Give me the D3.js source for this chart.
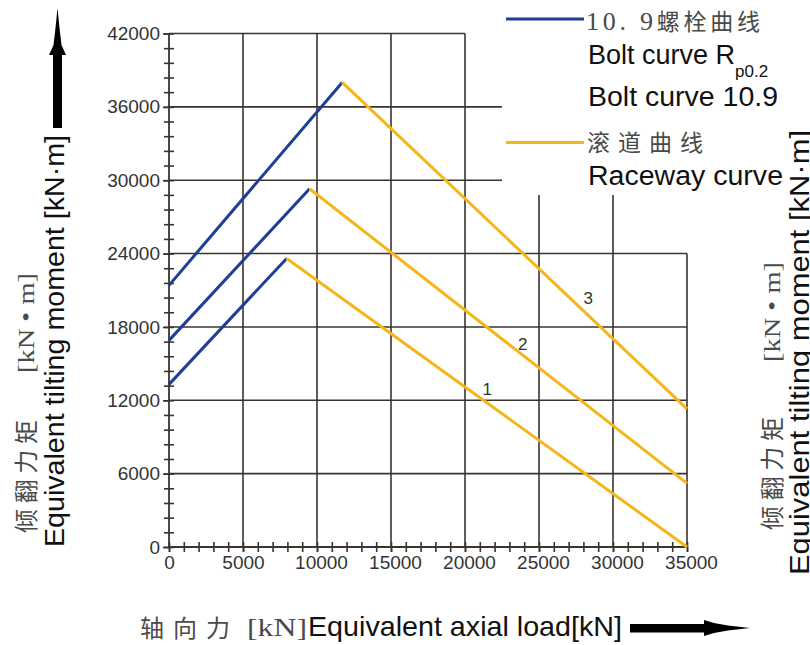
<!DOCTYPE html>
<html>
<head>
<meta charset="utf-8">
<script src="https://cdn.jsdelivr.net/npm/d3@7"></script>
<style>
  html, body { margin: 0; padding: 0; background: #ffffff; }
  svg { display: block; }
</style>
</head>
<body>
<svg id="chart" width="810" height="645"></svg>
<script>
// ---------------- data ----------------
const curveNames = ["1", "2", "3"];
const boltStartMoment = [13300, 16900, 21400];   // kN·m at zero axial load
const peakLoad = [7950, 9500, 11700];            // kN
const peakMoment = [23600, 29300, 38000];        // kN·m
const racewayEndLoad = [35000, 35000, 35000];    // kN
const racewayEndMoment = [0, 5200, 11300];       // kN·m
const curveLabelLoad = [21500, 23900, 28330];
const curveLabelMoment = [12850, 16530, 20350];

const xTickValues = [0, 5000, 10000, 15000, 20000, 25000, 30000, 35000];
const xTickLabels = ["0", "5000", "10000", "15000", "20000", "25000", "30000", "35000"];
const yTickValues = [0, 6000, 12000, 18000, 24000, 30000, 36000, 42000];
const yTickLabels = ["0", "6000", "12000", "18000", "24000", "30000", "36000", "42000"];

const hGridValues = [0, 6000, 12000, 18000, 24000, 30000, 36000, 42000];
const hGridEnds   = [35000, 35000, 35000, 35000, 35000, 22500, 22500, 20000];
const vGridValues = [5000, 10000, 15000, 20000, 25000, 30000, 35000];
const vGridTops   = [42000, 42000, 42000, 42000, 28800, 28800, 24000];

const legendLabels = ["10. 9螺栓曲线", "滚道曲线"];
const boltEn1 = "Bolt curve R", boltSub = "p0.2", boltEn2 = "Bolt curve 10.9";
const racewayEn = "Raceway curve";
const yTitleCn = "倾翻力矩", yTitleUnit = "[kN • m]", yTitleEn = "Equivalent tilting moment [kN·m]";
const xTitleCn = "轴向力", xTitleUnit = "[kN]", xTitleEn = "Equivalent axial load[kN]";

// ---------------- setup ----------------
const BLUE = "#1e3f98", YELLOW = "#f4b619", GRID = "#3a342e";
const SANS = "'Liberation Sans', Arial, sans-serif";
const CJK = "'Noto Sans CJK SC', sans-serif";
const SERIF = "'Liberation Serif', 'Times New Roman', serif";
const CN_FILL = "#4a4a4a";

const svg = d3.select("#chart");
const x = d3.scaleLinear().domain([0, 35000]).range([169, 687]);
const y = d3.scaleLinear().domain([0, 42000]).range([547, 33.5]);

// ---------------- grid ----------------
const g = svg.append("g");
g.selectAll("line.h").data(hGridValues).join("line")
  .attr("x1", x(0)).attr("x2", (d, i) => x(hGridEnds[i]))
  .attr("y1", d => y(d)).attr("y2", d => y(d))
  .attr("stroke", GRID).attr("stroke-width", 1.6);
g.selectAll("line.v").data(vGridValues).join("line")
  .attr("x1", d => x(d)).attr("x2", d => x(d))
  .attr("y1", y(0)).attr("y2", (d, i) => y(vGridTops[i]))
  .attr("stroke", GRID).attr("stroke-width", 1.6);

// ---------------- axes ----------------
const yMinor = d3.range(0, 42001, 1200);
const xMinor = d3.range(0, 35001, 1000);

function styleAxis(sel) {
  sel.select(".domain").remove();
  sel.selectAll(".tick line").attr("stroke", GRID).attr("stroke-width", 1.6);
  sel.selectAll(".tick text").attr("fill", "#333").attr("font-family", SANS).attr("font-size", 19);
}
// y axis: ticks crossing the axis
svg.append("g").attr("transform", `translate(${x(0)},0)`)
  .call(d3.axisLeft(y).tickValues(yMinor).tickSize(5).tickSizeOuter(0).tickFormat(""))
  .call(styleAxis);
svg.append("g").attr("transform", `translate(${x(0)},0)`)
  .call(d3.axisRight(y).tickValues(yMinor).tickSize(5).tickSizeOuter(0).tickFormat(""))
  .call(styleAxis);
svg.append("g").attr("transform", `translate(${x(0)},0)`)
  .call(d3.axisLeft(y).tickValues(yTickValues).tickSize(6).tickPadding(3).tickSizeOuter(0)
        .tickFormat((d, i) => yTickLabels[i]))
  .call(styleAxis);
// x axis
svg.append("g").attr("transform", `translate(0,${y(0)})`)
  .call(d3.axisBottom(x).tickValues(xMinor).tickSize(5).tickSizeOuter(0).tickFormat(""))
  .call(styleAxis);
svg.append("g").attr("transform", `translate(0,${y(0)})`)
  .call(d3.axisTop(x).tickValues(xMinor).tickSize(5).tickSizeOuter(0).tickFormat(""))
  .call(styleAxis);
const xAx = svg.append("g").attr("transform", `translate(0,${y(0)})`)
  .call(d3.axisBottom(x).tickValues(xTickValues).tickSize(5).tickPadding(4).tickSizeOuter(0)
        .tickFormat((d, i) => xTickLabels[i]))
  .call(styleAxis);
xAx.selectAll(".tick text").attr("dx", d => (String(d).length >= 5 ? 4 : 0));
// axis lines
svg.append("line").attr("x1", x(0)).attr("x2", x(0)).attr("y1", y(0)).attr("y2", y(42000))
  .attr("stroke", GRID).attr("stroke-width", 1.8);
svg.append("line").attr("x1", x(0)).attr("x2", x(35000)).attr("y1", y(0)).attr("y2", y(0))
  .attr("stroke", GRID).attr("stroke-width", 1.8);

// ---------------- curves ----------------
const line = d3.line().x(d => x(d[0])).y(d => y(d[1]));
curveNames.forEach((name, i) => {
  svg.append("path")
    .attr("d", line([[0, boltStartMoment[i]], [peakLoad[i], peakMoment[i]]]))
    .attr("fill", "none").attr("stroke", BLUE).attr("stroke-width", 3);
  svg.append("path")
    .attr("d", line([[peakLoad[i], peakMoment[i]], [racewayEndLoad[i], racewayEndMoment[i]]]))
    .attr("fill", "none").attr("stroke", YELLOW).attr("stroke-width", 3);
  svg.append("text")
    .attr("x", x(curveLabelLoad[i])).attr("y", y(curveLabelMoment[i]))
    .attr("text-anchor", "middle").attr("dominant-baseline", "central")
    .attr("font-family", SANS).attr("font-size", 17).attr("fill", "#333")
    .text(name);
});

// ---------------- legend ----------------
svg.append("line").attr("x1", 506).attr("x2", 584).attr("y1", 19).attr("y2", 19)
  .attr("stroke", BLUE).attr("stroke-width", 3.2);
svg.append("line").attr("x1", 506).attr("x2", 584).attr("y1", 142.5).attr("y2", 142.5)
  .attr("stroke", YELLOW).attr("stroke-width", 3.2);

const t1 = svg.append("text").attr("x", 586).attr("y", 30).attr("fill", CN_FILL)
  .attr("font-size", 23).attr("textLength", 174).attr("lengthAdjust", "spacing");
t1.append("tspan").attr("font-family", SERIF).attr("font-size", 26).text("10. 9");
t1.append("tspan").attr("font-family", CJK).text("螺栓曲线");

const t2 = svg.append("text").attr("x", 588).attr("y", 64).attr("fill", "#111")
  .attr("font-family", SANS).attr("font-size", 27);
t2.append("tspan").text(boltEn1);
t2.append("tspan").attr("font-size", 17).attr("dy", 13).text(boltSub);

svg.append("text").attr("x", 588).attr("y", 106).attr("fill", "#111")
  .attr("font-family", SANS).attr("font-size", 27)
  .attr("textLength", 190).attr("lengthAdjust", "spacingAndGlyphs").text(boltEn2);

svg.append("text").attr("x", 587).attr("y", 151).attr("fill", CN_FILL)
  .attr("font-family", CJK).attr("font-size", 23)
  .attr("textLength", 116).attr("lengthAdjust", "spacing").text(legendLabels[1]);

svg.append("text").attr("x", 588).attr("y", 185).attr("fill", "#111")
  .attr("font-family", SANS).attr("font-size", 27)
  .attr("textLength", 195).attr("lengthAdjust", "spacingAndGlyphs").text(racewayEn);

// ---------------- axis titles ----------------
function yTitle(cx, enBase, enStart, enLen, cnStart, unitEnd) {
  svg.append("text").attr("transform", `translate(${cx + 9},${cnStart}) rotate(-90)`)
    .attr("font-family", CJK).attr("font-size", 24).attr("fill", CN_FILL)
    .attr("textLength", 113).attr("lengthAdjust", "spacing").text(yTitleCn);
  svg.append("text").attr("transform", `translate(${cx + 8},${unitEnd}) rotate(-90)`)
    .attr("text-anchor", "end")
    .attr("font-family", SERIF).attr("font-size", 24).attr("fill", CN_FILL)
    .attr("textLength", 100).attr("lengthAdjust", "spacingAndGlyphs").text(yTitleUnit);
  svg.append("text").attr("transform", `translate(${enBase},${enStart}) rotate(-90)`)
    .attr("font-family", SANS).attr("font-size", 28).attr("fill", "#111")
    .attr("textLength", enLen).attr("lengthAdjust", "spacingAndGlyphs").text(yTitleEn);
}
yTitle(26, 64, 547, 412, 533, 273);
yTitle(772, 809, 575, 445, 530, 262);

// x title
svg.append("text").attr("x", 140).attr("y", 637)
  .attr("font-family", CJK).attr("font-size", 24).attr("fill", CN_FILL)
  .attr("textLength", 90).attr("lengthAdjust", "spacing").text(xTitleCn);
svg.append("text").attr("x", 247).attr("y", 636)
  .attr("font-family", SERIF).attr("font-size", 25).attr("fill", CN_FILL)
  .attr("textLength", 60).attr("lengthAdjust", "spacingAndGlyphs").text(xTitleUnit);
svg.append("text").attr("x", 308).attr("y", 636)
  .attr("font-family", SANS).attr("font-size", 28).attr("fill", "#111")
  .attr("textLength", 314).attr("lengthAdjust", "spacingAndGlyphs").text(xTitleEn);

// ---------------- arrows ----------------
svg.append("rect").attr("x", 53).attr("y", 54).attr("width", 9).attr("height", 74).attr("fill", "#000");
svg.append("polygon").attr("points", "57.5,8 59.5,28 61.5,45 66,55 49,55 53.5,45 55.5,28").attr("fill", "#000");
svg.append("rect").attr("x", 630).attr("y", 624).attr("width", 76).attr("height", 8.5).attr("fill", "#000");
svg.append("polygon").attr("points", "750,628 728,625.5 714,623 704,620 704,636 714,633 728,630.5").attr("fill", "#000");
</script>
</body>
</html>
